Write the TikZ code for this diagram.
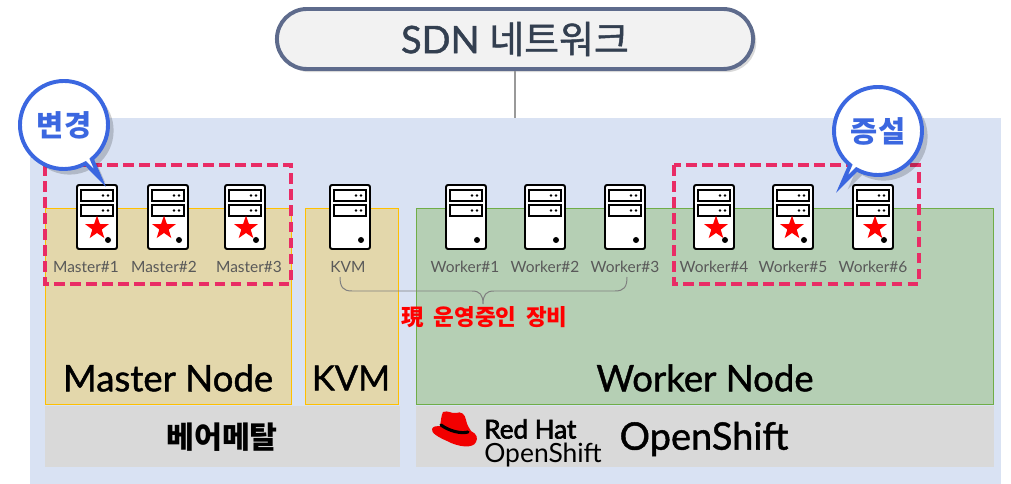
\documentclass[tikz,border=0pt]{standalone}
\usepackage{fontspec}
\setmainfont{Noto Sans CJK KR}
\newfontfamily\latinfont{Lato}
\newfontfamily\latinheavy[FakeBold=1.2]{Lato}
\newfontfamily\logoheavy[FakeBold=2.5]{Lato}
\newfontfamily\koheavy[FakeBold=1.2]{Noto Sans CJK KR}
\usetikzlibrary{shapes.geometric,shapes.callouts,shadows}
\definecolor{bgblue}{HTML}{D9E2F3}
\definecolor{sand}{HTML}{E3D7AB}
\definecolor{sage}{HTML}{B5CFB4}
\definecolor{sandline}{HTML}{FFC000}
\definecolor{sageline}{HTML}{70AD47}
\definecolor{titleline}{HTML}{5E6B8C}
\definecolor{titletext}{HTML}{333F50}
\definecolor{callblue}{HTML}{3B67E0}
\definecolor{pinkdash}{HTML}{E92C65}
\tikzset{
  srv/.pic={
    \draw[fill=white,draw=black,line width=1.4pt,rounded corners=1.5pt] (-20,-32) rectangle (20,32);
    \draw[fill=white,draw=black,line width=1.3pt] (-16,-27) rectangle (16,-16);
    \draw[fill=white,draw=black,line width=1.3pt] (-16,-12) rectangle (16,-1);
    \fill (6,-21.5) circle (1.3) (11,-21.5) circle (1.3) (6,-6.5) circle (1.3) (11,-6.5) circle (1.3);
    \fill (11,23) circle (3);
  }
}
\begin{document}
\begin{tikzpicture}[x=.025cm,y=-.025cm,
  outline/.style={draw=#1,line width=.7pt},
  mark star/.style={star,star points=5,star point ratio=2.5,fill=red,minimum size=.62cm,inner sep=0pt},
  srvlabel/.style={text=black!65,font=\latinfont\fontsize{11}{12}\selectfont,inner sep=0pt},
  bigtext/.style={font=\latinheavy\fontsize{26}{30}\selectfont,text=black,inner sep=0pt},
  callbubble/.style={ellipse callout,fill=white,draw=callblue,line width=2.8pt,minimum width=2.2cm,minimum height=2.2cm,inner sep=0pt,callout pointer arc=10,text=callblue,font=\fontsize{21}{24}\selectfont\bfseries,drop shadow={shadow xshift=.14cm,shadow yshift=-.14cm,fill=black,opacity=.18}},
  pinkbox/.style={draw=pinkdash,line width=2.5pt,dash pattern=on 7.6pt off 3.8pt}]
\useasboundingbox (0,0) rectangle (1011,484);
\fill[bgblue] (30,118) rectangle (1001,484);
% node areas
\draw[fill=sand,outline=sandline] (45,208) rectangle (291,404);
\draw[fill=sand,outline=sandline] (305,208) rectangle (398,404);
\draw[fill=sage,outline=sageline] (416,208) rectangle (993,404);
\fill[black!15] (45,406) rectangle (400,467);
\fill[black!15] (416,406) rectangle (994,467);
% top of the network
\draw (515,39) node[draw=titleline,line width=2.8pt,fill=black!5,rounded corners=.75cm,minimum width=11.9cm,minimum height=1.5cm,inner sep=0pt,drop shadow={shadow xshift=.08cm,shadow yshift=-.08cm,fill=black,opacity=.15},text=titletext,font=\fontsize{27}{30}\selectfont] (sdn) {\latinheavy SDN \koheavy 네트워크};
\coordinate (bgtop) at (515,118);
\draw[black!40,line width=1pt] (sdn.south) -- (bgtop);
% servers
\pic at (97,217) {srv};
\pic at (168,217) {srv};
\pic at (245,217) {srv};
\pic at (350,217) {srv};
\pic at (466,217) {srv};
\pic at (545,217) {srv};
\pic at (625,217) {srv};
\pic at (714,217) {srv};
\pic at (793,217) {srv};
\pic at (873,217) {srv};
% new ones
\draw (97,228) node[mark star] (starA) {};
\draw (164,228) node[mark star] (starB) {};
\draw (246,228) node[mark star] (starC) {};
\draw (716,228) node[mark star] (starD) {};
\draw (792,228) node[mark star] (starE) {};
\draw (875,228) node[mark star] (starF) {};
\draw (86,267) node[srvlabel] (master1) {Master\#1};
\draw (164,267) node[srvlabel] (master2) {Master\#2};
\draw (249,267) node[srvlabel] (master3) {Master\#3};
\draw (348,267) node[srvlabel] (kvm) {KVM};
\draw (465,267) node[srvlabel] (worker1) {Worker\#1};
\draw (545,267) node[srvlabel] (worker2) {Worker\#2};
\draw (625,267) node[srvlabel] (worker3) {Worker\#3};
\draw (714,267) node[srvlabel] (worker4) {Worker\#4};
\draw (793,267) node[srvlabel] (worker5) {Worker\#5};
\draw (873,267) node[srvlabel] (worker6) {Worker\#6};
% brace under the running ones
\coordinate (braceL) at (340,277);
\coordinate (braceR) at (627,277);
\coordinate (braceM) at (483,304);
\draw[black!50,line width=.7pt] (braceL) .. controls (340,287) and (343,291) .. (352,291) -- (472,291) .. controls (480,291) and (483,295) .. (braceM) .. controls (483,295) and (486,291) .. (494,291) -- (615,291) .. controls (624,291) and (627,287) .. (braceR);
\draw (484.5,317) node[text=red,font=\fontsize{16}{18}\selectfont\bfseries,inner sep=0pt] (running) {現\hspace{.2em} 운영중인\hspace{.2em} 장비};
\draw (168,378) node[bigtext] (masternode) {Master Node};
\draw (351,378) node[bigtext,font=\latinheavy\fontsize{24.5}{30}\selectfont] (kvmnode) {KVM};
\draw (705,378) node[bigtext] (workernode) {Worker Node};
\draw (222,437) node[font=\fontsize{21.6}{24}\selectfont\bfseries,inner sep=0pt] (baremetal) {베어메탈};
\draw (704,439) node[bigtext,font=\latinheavy\fontsize{27}{30}\selectfont] (openshift) {OpenShift};
% logo
\fill[red!95!black] (443,412) .. controls (448,410) and (452,414) .. (456,413) .. controls (461,411) and (465,414) .. (466,420) .. controls (467,425) and (469,428) .. (471,431) .. controls (477,434) and (478,438) .. (476,442) .. controls (473,449) and (458,447) .. (447,441) .. controls (438,437) and (431,433) .. (432,429) .. controls (433,426) and (437,426) .. (440,426) .. controls (441,421) and (441,416) .. (443,412) -- cycle;
\draw[black,line width=2.2pt,line cap=round] (441,425) .. controls (449,431) and (461,434) .. (468,432);
\draw (484,429) node[anchor=west,inner sep=0pt,font=\logoheavy\fontsize{18.5}{20}\selectfont] (redhat) {Red Hat};
\draw (484,455) node[anchor=west,inner sep=0pt,font=\latinfont\fontsize{18.8}{20}\selectfont] (logoname) {OpenShift};
% changed ones
\draw[pinkbox] (45,165) rectangle (291,284);
\draw[pinkbox] (674,165) rectangle (919,284);
\draw (64,125) node[callbubble,callout absolute pointer={(100,178)}] (change) {변경};
\draw (878,131) node[callbubble,callout absolute pointer={(842,184)}] (extend) {증설};
\end{tikzpicture}
\end{document}
